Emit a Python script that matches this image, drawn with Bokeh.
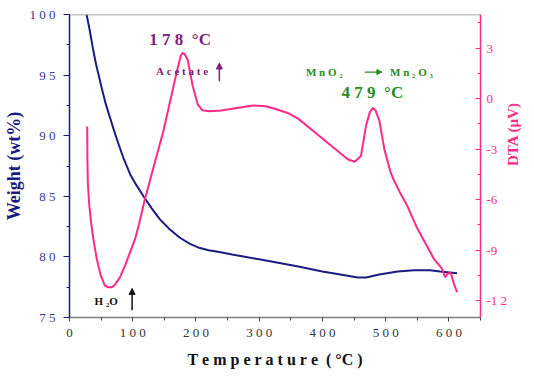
from bokeh.plotting import figure
from bokeh.models import (Range1d, LinearAxis, SingleIntervalTicker, Span, Arrow,
                          NormalHead, Label, CustomJSTickFormatter)
from bokeh.embed import file_html
from bokeh.resources import INLINE
import math

# ---- data ----
weight_temp = [27, 32, 37, 42, 47, 52, 58, 64, 70, 77, 85, 96, 106, 117, 130, 143, 158,
               174, 190, 205, 220, 237, 257, 300, 362, 400, 440, 456, 469, 490, 519, 545,
               570, 586, 613]
weight_pct = [100, 98.7, 97.2, 95.9, 94.8, 93.7, 92.5, 91.5, 90.5, 89.4, 88.2, 86.8, 85.9,
              85.0, 84.0, 83.1, 82.3, 81.6, 81.1, 80.75, 80.55, 80.4, 80.2, 79.8, 79.2,
              78.8, 78.45, 78.3, 78.3, 78.55, 78.8, 78.9, 78.9, 78.8, 78.65]

dta_temp = [28, 28.3, 29, 31, 34, 38, 43, 49, 56, 60, 67, 72, 80, 88, 96, 104, 111, 119,
            132, 148, 161, 169, 176, 179, 182, 187, 195, 203, 210, 221, 240, 257, 275, 291,
            310, 325, 345, 362, 388, 414, 440, 451, 461, 469, 475, 480, 484, 490, 498, 508,
            512, 523, 534, 550, 576, 589, 594, 598, 603, 608, 613]
dta_uv = [-1.65, -3.5, -5.0, -6.2, -7.3, -8.4, -9.5, -10.45, -11.1, -11.2, -11.2, -11.05,
          -10.6, -9.9, -9.1, -8.3, -7.3, -6.0, -4.2, -2.0, 0.14, 1.5, 2.55, 2.72, 2.65, 2.3,
          0.72, -0.35, -0.69, -0.75, -0.7, -0.6, -0.5, -0.4, -0.45, -0.6, -0.85, -1.2, -2.0,
          -2.8, -3.6, -3.75, -3.4, -1.6, -0.8, -0.55, -0.7, -1.3, -3.0, -4.4, -4.76, -5.6,
          -6.35, -7.7, -9.5, -10.1, -10.6, -10.4, -10.35, -11.0, -11.5]

x_ticks = [0, 100, 200, 300, 400, 500, 600]
x_tick_labels = ["0", "1 0 0", "2 0 0", "3 0 0", "4 0 0", "5 0 0", "6 0 0"]
w_ticks = [75, 80, 85, 90, 95, 100]
w_tick_labels = ["7 5", "8 0", "8 5", "9 0", "9 5", "1 0 0"]
d_ticks = [3, 0, -3, -6, -9, -12]
d_tick_labels = ["3", "0", "-3", "-6", "-9", "-1 2"]

NAVY = "#1c1c80"
PINK = "#ff2a85"
PURPLE = "#7a1f7a"
GREEN = "#2a8a22"
SERIF = "Liberation Serif"
NB = "\u00a0"


def spaced(s):
    return s.replace(" ", NB)


def fmt(ticks, labels):
    return CustomJSTickFormatter(
        args=dict(t=ticks, l=[spaced(s) for s in labels]),
        code="""
        for (let i = 0; i < t.length; i++) {
            if (Math.abs(t[i] - tick) < 1e-6) return l[i];
        }
        return "";
        """)


p = figure(width=532, height=370, x_range=Range1d(0, 650), y_range=Range1d(75, 100),
           output_backend="svg", toolbar_location=None)
p.extra_y_ranges = {"dta": Range1d(-13, 5)}
p.min_border_left = 69
p.min_border_right = 48
p.min_border_top = 14
p.min_border_bottom = 50
p.outline_line_color = None
p.xgrid.visible = False
p.ygrid.visible = False

# top frame line
p.add_layout(Span(location=100, dimension="width", line_color="#8a8a8a", line_width=1.5))

# bottom axis
xa = p.xaxis[0]
xa.ticker = SingleIntervalTicker(interval=100, num_minor_ticks=2)
xa.formatter = fmt(x_ticks, x_tick_labels)
xa.axis_line_color = "#808080"
xa.axis_line_width = 1.5
xa.major_tick_line_color = "#404040"
xa.minor_tick_line_color = "#404040"
xa.major_tick_in = 0
xa.major_tick_out = 4
xa.minor_tick_in = 0
xa.minor_tick_out = 3
xa.major_label_standoff = 3
xa.major_label_text_font = SERIF
xa.major_label_text_font_size = "13px"
xa.major_label_text_color = "#333333"
xa.axis_label = spaced("T e m p e r a t u r e  ( °C )")
xa.axis_label_text_font = SERIF
xa.axis_label_text_font_style = "bold"
xa.axis_label_text_font_size = "16px"
xa.axis_label_text_color = "#111111"
xa.axis_label_standoff = 8

# left axis
ya = p.yaxis[0]
ya.ticker = SingleIntervalTicker(interval=5, num_minor_ticks=2)
ya.formatter = fmt(w_ticks, w_tick_labels)
ya.axis_line_color = NAVY
ya.axis_line_width = 1.5
ya.major_tick_line_color = NAVY
ya.minor_tick_line_color = NAVY
ya.major_tick_in = 0
ya.major_tick_out = 6
ya.minor_tick_in = 0
ya.minor_tick_out = 3
ya.major_label_standoff = 8
ya.major_label_text_font = SERIF
ya.major_label_text_font_size = "13px"
ya.major_label_text_color = "#3a3a96"
ya.axis_label = "Weight (wt%)"
ya.axis_label_text_font = SERIF
ya.axis_label_text_font_style = "bold"
ya.axis_label_text_font_size = "18px"
ya.axis_label_text_color = NAVY
ya.axis_label_standoff = 3

# right axis
ra = LinearAxis(y_range_name="dta",
                ticker=SingleIntervalTicker(interval=3, num_minor_ticks=2))
ra.formatter = fmt(d_ticks, d_tick_labels)
ra.axis_line_color = PINK
ra.axis_line_width = 1.5
ra.major_tick_line_color = PINK
ra.minor_tick_line_color = PINK
ra.major_tick_in = 5
ra.major_tick_out = 0
ra.minor_tick_in = 3
ra.minor_tick_out = 0
ra.major_label_standoff = 6
ra.major_label_text_font = SERIF
ra.major_label_text_font_size = "13px"
ra.major_label_text_color = PINK
ra.axis_label = "DTA (µV)"
ra.axis_label_text_font = SERIF
ra.axis_label_text_font_style = "bold"
ra.axis_label_text_font_size = "15px"
ra.axis_label_text_color = PINK
ra.axis_label_standoff = 3
ra.axis_label_orientation = math.pi / 2
p.add_layout(ra, "right")

# curves
p.line(weight_temp, weight_pct, line_color=NAVY, line_width=2)
p.line(dta_temp, dta_uv, line_color=PINK, line_width=2, y_range_name="dta")


# annotations
def lab(x, y, text, color, size, align="center"):
    p.add_layout(Label(x=x, y=y, text=spaced(text), text_color=color, text_font=SERIF,
                       text_font_style="bold", text_font_size=size,
                       text_align=align, text_baseline="middle"))


lab(175, 97.9, "1 7 8  °C", PURPLE, "17px")
lab(178, 95.35, "A c e t a t e", PURPLE, "11px")
p.add_layout(Arrow(x_start=237, y_start=94.5, x_end=237, y_end=96.0,
                   line_color=PURPLE, line_width=1.5,
                   end=NormalHead(size=6, fill_color=PURPLE, line_color=PURPLE)))

lab(374, 95.25, "M n O ₂", GREEN, "11px", align="left")
p.add_layout(Arrow(x_start=467, y_start=95.25, x_end=494, y_end=95.25,
                   line_color=GREEN, line_width=1.2,
                   end=NormalHead(size=5, fill_color=GREEN, line_color=GREEN)))
lab(507, 95.25, "M n ₂ O ₃", GREEN, "11px", align="left")
lab(479, 93.55, "4 7 9  °C", GREEN, "17px")

lab(58, 76.4, "H ₂O", "#111111", "11px")
p.add_layout(Arrow(x_start=99, y_start=75.6, x_end=99, y_end=77.4,
                   line_color="#111111", line_width=1.5,
                   end=NormalHead(size=6, fill_color="#111111", line_color="#111111")))

open("out.html", "w").write(file_html(p, INLINE))
